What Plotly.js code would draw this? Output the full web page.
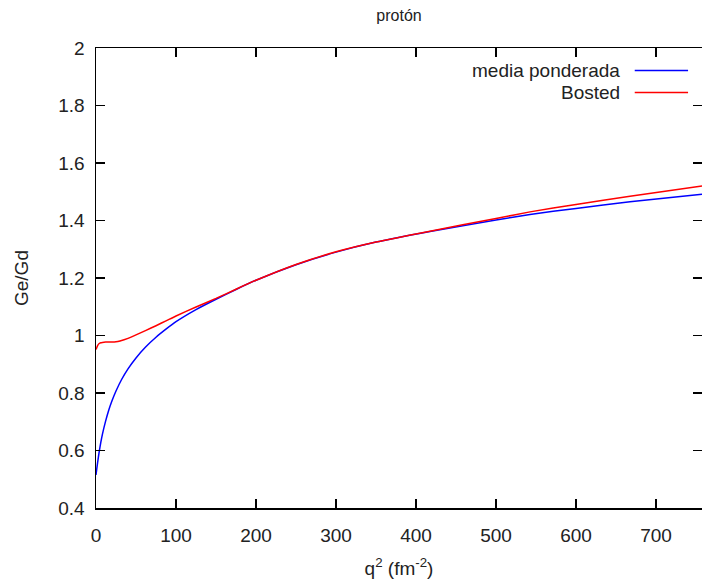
<!DOCTYPE html>
<html>
<head>
<meta charset="utf-8">
<script src="https://cdn.plot.ly/plotly-3.0.1.min.js"></script>
<style>html,body{margin:0;padding:0;background:#fff;}#chart{width:702px;height:585px;}</style>
</head>
<body>
<div id="chart"></div>
<script>
// Data
var q2Media = [0, 1, 2, 4, 6, 8, 12, 16, 20, 25, 32, 40, 50, 62, 75, 87, 100, 125, 150, 175, 200, 250, 300, 350, 417.5, 500, 542.5, 600, 667.5, 757.5];
var geGdMedia = [0.515, 0.537, 0.558, 0.596, 0.628, 0.656, 0.702, 0.741, 0.773, 0.807, 0.847, 0.884, 0.922, 0.960, 0.994, 1.021, 1.048, 1.090, 1.126, 1.160, 1.192, 1.246, 1.290, 1.325, 1.362, 1.402, 1.421, 1.442, 1.465, 1.491];

var q2Bosted = [0, 1, 2, 4, 6, 8, 12, 16, 20, 25, 30, 40, 50, 62.5, 75, 87.5, 100, 125, 150, 175, 200, 250, 300, 350, 417.5, 500, 542.5, 600, 667.5, 757.5];
var geGdBosted = [0.951, 0.958, 0.965, 0.972, 0.975, 0.976, 0.977, 0.977, 0.977, 0.978, 0.981, 0.990, 1.002, 1.018, 1.034, 1.051, 1.068, 1.099, 1.129, 1.161, 1.192, 1.247, 1.291, 1.325, 1.363, 1.407, 1.430, 1.456, 1.484, 1.520];

var seriesNames = ["media ponderada", "Bosted"];
var xTicks = [0, 100, 200, 300, 400, 500, 600, 700];
var yTicks = [0.4, 0.6, 0.8, 1, 1.2, 1.4, 1.6, 1.8, 2];
var yTickText = ["0.4", "0.6", "0.8", "1", "1.2", "1.4", "1.6", "1.8", "2"];

var FONT = "Liberation Sans, Arial, sans-serif";
var BLUE = "rgb(0,0,255)";
var RED = "rgb(255,0,0)";
var TXT = "#222";
var FS = 19;

var traces = [
  {x: q2Media, y: geGdMedia, name: seriesNames[0], mode: "lines", line: {color: BLUE, width: 1.5, shape: "spline", smoothing: 0.5}, showlegend: false},
  {x: q2Bosted, y: geGdBosted, name: seriesNames[1], mode: "lines", line: {color: RED, width: 1.5, shape: "spline", smoothing: 0.5}, showlegend: false}
];

var axisCommon = {
  showgrid: false, zeroline: false, showline: true, linecolor: "#000", linewidth: 1.5,
  mirror: "ticks", ticks: "inside", ticklen: 9, tickwidth: 1.2, tickcolor: "#000",
  tickfont: {family: FONT, size: FS, color: TXT}
};

var layout = {
  width: 702, height: 585,
  margin: {l: 96, r: 0, t: 48, b: 77},
  paper_bgcolor: "#fff", plot_bgcolor: "#fff",
  font: {family: FONT, size: FS, color: TXT},
  title: {text: "protón", x: 0.5684, xanchor: "center", y: 0.974, yanchor: "middle", font: {family: FONT, size: 16, color: TXT}},
  xaxis: Object.assign({}, axisCommon, {
    range: [0, 757.5], tickvals: xTicks, ticklabelstandoff: 10,
    title: {text: "q<sup>2</sup> (fm<sup>-2</sup>)", standoff: 16, font: {family: FONT, size: FS, color: TXT}}
  }),
  yaxis: Object.assign({}, axisCommon, {
    range: [0.4, 2], tickvals: yTicks, ticktext: yTickText, ticklabelstandoff: 6,
    title: {text: "Ge/Gd", standoff: 24, font: {family: FONT, size: FS, color: TXT}}
  }),
  annotations: [
    {xref: "paper", yref: "paper", x: 0.868, y: 0.951, xanchor: "right", yanchor: "middle", text: seriesNames[0], showarrow: false, font: {family: FONT, size: FS, color: TXT}},
    {xref: "paper", yref: "paper", x: 0.868, y: 0.903, xanchor: "right", yanchor: "middle", text: seriesNames[1], showarrow: false, font: {family: FONT, size: FS, color: TXT}}
  ],
  shapes: [
    {type: "line", xref: "paper", yref: "paper", x0: 0.889, x1: 0.977, y0: 0.951, y1: 0.951, line: {color: BLUE, width: 1.5}},
    {type: "line", xref: "paper", yref: "paper", x0: 0.889, x1: 0.977, y0: 0.903, y1: 0.903, line: {color: RED, width: 1.5}}
  ]
};

Plotly.newPlot("chart", traces, layout, {staticPlot: true, displayModeBar: false});
</script>
</body>
</html>
